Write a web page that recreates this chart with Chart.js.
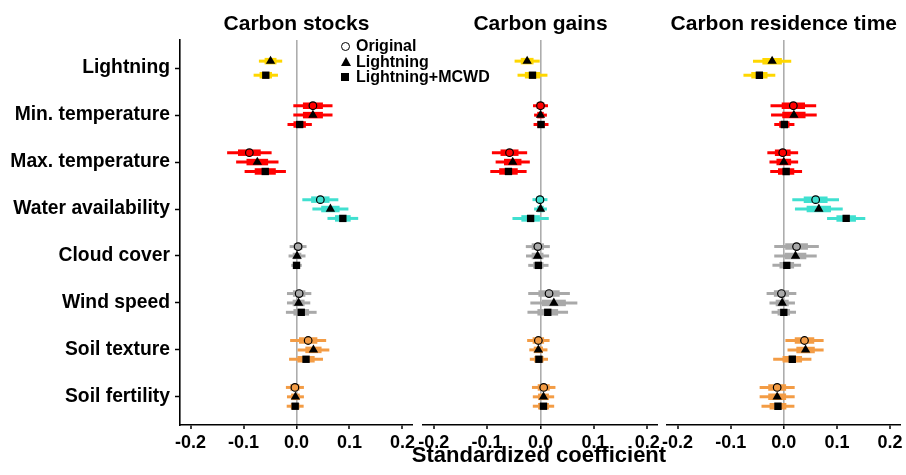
<!DOCTYPE html>
<html><head><meta charset="utf-8">
<script src="https://cdn.jsdelivr.net/npm/chart.js@4/dist/chart.umd.min.js"></script>
<style>
html,body{margin:0;padding:0;background:#fff;}
#wrap{position:relative;width:906px;height:475px;overflow:hidden;}
canvas{position:absolute;left:0;top:0;}
#legend{position:absolute;left:338px;top:38px;font:bold 16px "Liberation Sans",Arial,sans-serif;line-height:15.5px;color:#000;}
#legend .row{position:relative;height:15.5px;padding-left:18px;white-space:nowrap;}
#legend .sym{position:absolute;left:2px;top:3px;}
.circ{width:7px;height:7px;border:1.5px solid #000;border-radius:50%;background:#fff;}
.tri{width:0;height:0;border-left:5px solid transparent;border-right:5px solid transparent;border-bottom:9px solid #000;}
.sq{width:8px;height:8px;background:#000;}
#xtitle{position:absolute;left:339px;width:400px;top:444px;text-align:center;font:bold 22px "Liberation Sans",Arial,sans-serif;line-height:22px;color:#000;white-space:nowrap;}
</style></head><body>
<div id="wrap">
<canvas id="c1" width="906" height="475"></canvas>
<canvas id="c2" width="906" height="475"></canvas>
<canvas id="c3" width="906" height="475"></canvas>
<div id="legend">
 <div class="row"><div class="sym circ" style="left:3px;top:4px"></div>Original</div>
 <div class="row"><div class="sym tri" style="left:2.5px;top:3px"></div>Lightning</div>
 <div class="row"><div class="sym sq" style="left:3px;top:4px"></div>Lightning+MCWD</div>
</div>
<div id="xtitle">Standardized coefficient</div>
</div>
<script>
// ---------- data ----------
const categories = ['Lightning','Min. temperature','Max. temperature','Water availability','Cloud cover','Wind speed','Soil texture','Soil fertility'];
const catColors = ['#FFD700','#FF0000','#FF0000','#40E0D0','#A9A9A9','#A9A9A9','#F39C45','#F39C45'];
const panelTitles = ['Carbon stocks','Carbon gains','Carbon residence time'];
const xTicks = [-0.2,-0.1,0.0,0.1,0.2];
const modelNames = ['Original','Lightning','Lightning+MCWD'];

// coefficient and 95% CI half-width, per model
const stocksOrig    = [null, 0.031, -0.089, 0.045, 0.003, 0.005, 0.022, -0.003];
const stocksOrigCI  = [null, 0.037, 0.042, 0.034, 0.016, 0.023, 0.034, 0.017];
const stocksLight   = [-0.049, 0.031, -0.074, 0.064, 0.001, 0.004, 0.032, -0.002];
const stocksLightCI = [0.022, 0.037, 0.040, 0.034, 0.016, 0.022, 0.030, 0.016];
const stocksMcwd    = [-0.058, 0.006, -0.059, 0.0875, 0.000, 0.009, 0.018, -0.0025];
const stocksMcwdCI  = [0.023, 0.023, 0.039, 0.029, 0.010, 0.029, 0.032, 0.016];

const gainsOrig     = [null, 0.000, -0.058, -0.001, -0.005, 0.016, -0.004, 0.006];
const gainsOrigCI   = [null, 0.014, 0.033, 0.014, 0.0225, 0.039, 0.021, 0.022];
const gainsLight    = [-0.025, 0.000, -0.052, 0.000, -0.0055, 0.025, -0.004, 0.0056];
const gainsLightCI  = [0.0235, 0.012, 0.032, 0.012, 0.0216, 0.044, 0.017, 0.020];
const gainsMcwd     = [-0.015, 0.001, -0.060, -0.0185, -0.004, 0.0136, -0.003, 0.0056];
const gainsMcwdCI   = [0.028, 0.014, 0.034, 0.034, 0.019, 0.038, 0.017, 0.020];

const resOrig       = [null, 0.018, -0.002, 0.060, 0.024, -0.0044, 0.039, -0.0125];
const resOrigCI     = [null, 0.043, 0.029, 0.044, 0.042, 0.028, 0.036, 0.033];
const resLight      = [-0.022, 0.019, 0.000, 0.066, 0.022, -0.003, 0.041, -0.0125];
const resLightCI    = [0.036, 0.043, 0.027, 0.045, 0.040, 0.024, 0.034, 0.033];
const resMcwd       = [-0.046, 0.001, 0.0044, 0.1175, 0.0056, 0.000, 0.016, -0.011];
const resMcwdCI     = [0.030, 0.019, 0.030, 0.036, 0.027, 0.023, 0.036, 0.031];

// ---------- build ----------
const FONT = '"Liberation Sans", Arial, Helvetica, sans-serif';
const DODGE = 0.6;
const pointStyles = [
  {pointStyle:'circle', radius:3.8, border:'#000', bw:1.2, fillCat:true},
  {pointStyle:'triangle', radius:5.4, border:'#000', bw:0, fillCat:false},
  {pointStyle:'rect', radius:5.2, border:'#000', bw:0, fillCat:false}
];

function buildDatasets(models){
  const thin=[], thick=[], col=[];
  const pts = models.map(()=>({data:[], colors:[]}));
  categories.forEach((c,i)=>{
    const present = [];
    models.forEach((m,k)=>{ if(m.vals[i]!=null) present.push(k); });
    const n = present.length;
    present.forEach((k,j)=>{
      const y = i + 1 + (j-(n-1)/2)*DODGE/n;
      const v = models[k].vals[i], h = models[k].ci[i], se = h/1.96;
      thin.push({x:v-h,y:y},{x:v+h,y:y},{x:null,y:null});
      thick.push({x:v-se,y:y},{x:v+se,y:y},{x:null,y:null});
      col.push(catColors[i],catColors[i],catColors[i]);
      pts[k].data.push({x:v,y:y});
      pts[k].colors.push(catColors[i]);
    });
  });
  const ds = [];
  ds.push({label:'ci95', data:thin, showLine:true, pointRadius:0, borderWidth:3, borderCapStyle:'butt',
    borderColor:'#000', spanGaps:false, order:3, segment:{borderColor:ctx=>col[ctx.p0DataIndex]}});
  ds.push({label:'se', data:thick, showLine:true, pointRadius:0, borderWidth:6.5, borderCapStyle:'butt',
    borderColor:'#000', spanGaps:false, order:2, segment:{borderColor:ctx=>col[ctx.p0DataIndex]}});
  pts.forEach((p,k)=>{
    const st = pointStyles[k];
    ds.push({label:modelNames[k], data:p.data, showLine:false, pointStyle:st.pointStyle,
      pointRadius:st.radius, pointBorderColor:st.border, pointBorderWidth:st.bw,
      pointBackgroundColor: st.fillCat ? p.colors : '#000', order:1-k*0.1});
  });
  return ds;
}

function makeChart(id, idx, models, showY, pad){
  const ctx = document.getElementById(id);
  return new Chart(ctx, {
    type:'scatter',
    data:{datasets:buildDatasets(models)},
    options:{
      responsive:false, animation:false, devicePixelRatio:1,
      layout:{padding:pad},
      plugins:{
        legend:{display:false}, tooltip:{enabled:false},
        title:{display:true, text:panelTitles[idx], fullSize:false, color:'#000',
          font:{family:FONT, size:21, weight:'bold', lineHeight:'24px'}, padding:{top:10,bottom:4}}
      },
      scales:{
        x:{type:'linear', min:-0.22, max:0.22,
          afterBuildTicks:s=>{ s.ticks = xTicks.map(v=>({value:v})); },
          afterFit:s=>{ s.height = 50; },
          ticks:{callback:v=>Number(v).toFixed(1), color:'#000', padding:3, maxRotation:0, autoSkip:false,
            font:{family:FONT, size:18, weight:'bold'}},
          grid:{drawOnChartArea:true, drawTicks:true, tickLength:4, tickColor:'#000', tickWidth:1.5,
            color:c=> (c.tick && Math.abs(c.tick.value)<1e-9) ? '#ADADAD' : 'rgba(0,0,0,0)',
            lineWidth:c=> (c.tick && Math.abs(c.tick.value)<1e-9) ? 1.6 : 0},
          border:{display:true, color:'#000', width:1.6}
        },
        y:{type:'linear', reverse:true, min:0.4, max:8.6, display:showY,
          afterBuildTicks:s=>{ s.ticks = categories.map((c,i)=>({value:i+1})); },
          afterFit:s=>{ if(showY) s.width = 180; },
          ticks:{callback:v=>categories[Math.round(v)-1], color:'#000', padding:5, autoSkip:false,
            font:{family:FONT, size:19.3, weight:'bold'}},
          grid:{drawOnChartArea:false, drawTicks:true, tickLength:5, tickColor:'#000', tickWidth:1.5},
          border:{display:true, color:'#000', width:1.6}
        }
      }
    }
  });
}

makeChart('c1', 0, [
  {vals:stocksOrig, ci:stocksOrigCI},
  {vals:stocksLight, ci:stocksLightCI},
  {vals:stocksMcwd, ci:stocksMcwdCI}], true, {left:0, right:493, top:2, bottom:0});
makeChart('c2', 1, [
  {vals:gainsOrig, ci:gainsOrigCI},
  {vals:gainsLight, ci:gainsLightCI},
  {vals:gainsMcwd, ci:gainsMcwdCI}], false, {left:423, right:248, top:2, bottom:0});
makeChart('c3', 2, [
  {vals:resOrig, ci:resOrigCI},
  {vals:resLight, ci:resLightCI},
  {vals:resMcwd, ci:resMcwdCI}], false, {left:667, right:5, top:2, bottom:0});
</script>
</body></html>
